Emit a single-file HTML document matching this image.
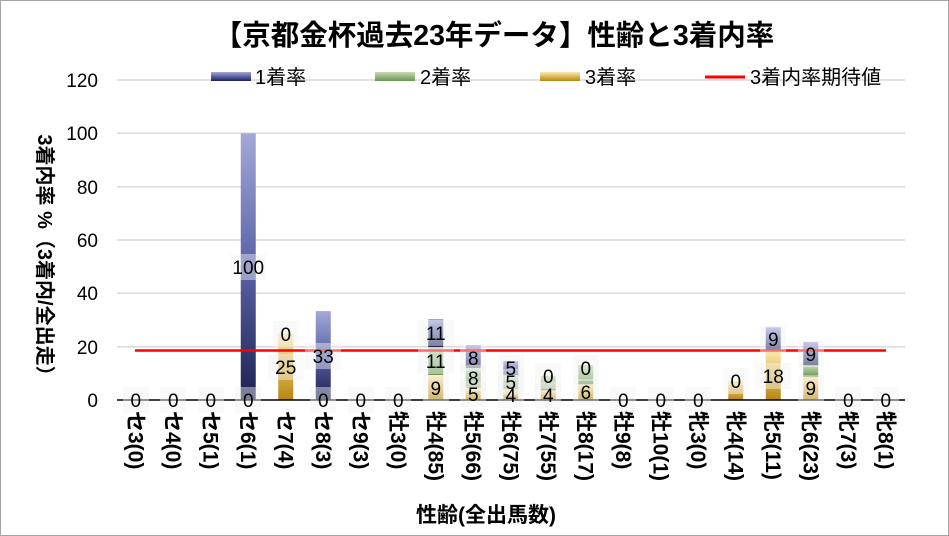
<!DOCTYPE html><html><head><meta charset="utf-8"><style>body{margin:0;background:#fff}svg{display:block;font-family:"Liberation Sans","Noto Sans CJK JP",sans-serif}</style></head><body>
<svg width="949" height="536" viewBox="0 0 949 536" xmlns="http://www.w3.org/2000/svg">
<defs>
<linearGradient id="gb" x1="0" y1="0" x2="0" y2="1"><stop offset="0" stop-color="#a3a9d6"/><stop offset="0.5" stop-color="#5a62a8"/><stop offset="1" stop-color="#1e2150"/></linearGradient>
<linearGradient id="gg" x1="0" y1="0" x2="0" y2="1"><stop offset="0" stop-color="#c6dcb8"/><stop offset="1" stop-color="#6b9550"/></linearGradient>
<linearGradient id="go" x1="0" y1="0" x2="0" y2="1"><stop offset="0" stop-color="#fde9ae"/><stop offset="1" stop-color="#b8860b"/></linearGradient>
</defs>
<rect x="0.5" y="0.5" width="948" height="535" fill="#fff" stroke="#a6a6a6"/>
<text x="494" y="45" font-size="28.5" font-weight="bold" text-anchor="middle">【京都金杯過去23年データ】性齢と3着内率</text>
<g stroke="#d9d9d9" stroke-width="1.5">
<line x1="117" y1="80" x2="905" y2="80"/><line x1="117" y1="133.3" x2="905" y2="133.3"/><line x1="117" y1="186.7" x2="905" y2="186.7"/><line x1="117" y1="240" x2="905" y2="240"/><line x1="117" y1="293.3" x2="905" y2="293.3"/><line x1="117" y1="346.7" x2="905" y2="346.7"/>
</g>
<g font-size="19" text-anchor="end" fill="#000">
<text x="98" y="87">120</text><text x="98" y="140">100</text><text x="98" y="194">80</text><text x="98" y="247">60</text><text x="98" y="300">40</text><text x="98" y="354">20</text><text x="98" y="407">0</text>
</g>
<text transform="translate(38,260) rotate(90)" font-size="20" font-weight="bold" text-anchor="middle">3着内率 %（3着内/全出走）</text>
<rect x="211" y="72" width="40" height="9" fill="url(#gb)"/><text x="255" y="84" font-size="20">1着率</text>
<rect x="375" y="72" width="40" height="9" fill="url(#gg)"/><text x="420" y="84" font-size="20">2着率</text>
<rect x="540" y="72" width="40" height="9" fill="url(#go)"/><text x="585" y="84" font-size="20">3着率</text>
<line x1="705" y1="77" x2="745" y2="77" stroke="#f00" stroke-width="3"/><text x="750" y="84" font-size="20">3着内率期待値</text>
<g>
<rect x="240.75" y="133.3" width="15" height="266.7" fill="url(#gb)"/>
<rect x="278.25" y="333.3" width="15" height="66.7" fill="url(#go)"/>
<rect x="315.75" y="311.1" width="15" height="88.9" fill="url(#gb)"/>
<rect x="428.25" y="375" width="15" height="25" fill="url(#go)"/><rect x="428.25" y="347" width="15" height="28" fill="url(#gg)"/><rect x="428.25" y="319" width="15" height="28" fill="url(#gb)"/>
<rect x="465.75" y="388" width="15" height="12" fill="url(#go)"/><rect x="465.75" y="368" width="15" height="20" fill="url(#gg)"/><rect x="465.75" y="345" width="15" height="23" fill="url(#gb)"/>
<rect x="503.25" y="389.3" width="15" height="10.7" fill="url(#go)"/><rect x="503.25" y="375.1" width="15" height="14.2" fill="url(#gg)"/><rect x="503.25" y="361" width="15" height="14.1" fill="url(#gb)"/>
<rect x="540.75" y="390.3" width="15" height="9.7" fill="url(#go)"/><rect x="540.75" y="376" width="15" height="14.3" fill="url(#gg)"/>
<rect x="578.25" y="384.3" width="15" height="15.7" fill="url(#go)"/><rect x="578.25" y="365" width="15" height="19.3" fill="url(#gg)"/>
<rect x="728.25" y="381" width="15" height="19" fill="url(#go)"/>
<rect x="765.75" y="351.5" width="15" height="48.5" fill="url(#go)"/><rect x="765.75" y="327.3" width="15" height="24.2" fill="url(#gb)"/>
<rect x="803.25" y="376.8" width="15" height="23.2" fill="url(#go)"/><rect x="803.25" y="365.2" width="15" height="11.6" fill="url(#gg)"/><rect x="803.25" y="342" width="15" height="23.2" fill="url(#gb)"/>
</g>
<line x1="117" y1="400" x2="905" y2="400" stroke="#000" stroke-width="1.5"/>
<line x1="135" y1="350.5" x2="886" y2="350.5" stroke="#f00" stroke-width="2.5"/>
<g fill="#f2f2f2" fill-opacity="0.45">
<rect x="123" y="387" width="26" height="26"/><rect x="160" y="387" width="26" height="26"/><rect x="198" y="387" width="26" height="26"/><rect x="235" y="387" width="26" height="26"/>
<rect x="230" y="254" width="36" height="26"/>
<rect x="273" y="321" width="26" height="26"/><rect x="268" y="354" width="36" height="26"/>
<rect x="305" y="343" width="36" height="26"/><rect x="310" y="387" width="26" height="26"/>
<rect x="348" y="387" width="26" height="26"/><rect x="385" y="387" width="26" height="26"/>
<rect x="418" y="320" width="36" height="26"/><rect x="418" y="348" width="36" height="26"/><rect x="423" y="375" width="26" height="26"/>
<rect x="460" y="345" width="26" height="26"/><rect x="460" y="365" width="26" height="26"/><rect x="460" y="381" width="26" height="26"/>
<rect x="498" y="355" width="26" height="26"/><rect x="498" y="369" width="26" height="26"/><rect x="498" y="382" width="26" height="26"/>
<rect x="535" y="363" width="26" height="26"/><rect x="535" y="382" width="26" height="26"/>
<rect x="573" y="355" width="26" height="26"/><rect x="573" y="379" width="26" height="26"/>
<rect x="610" y="387" width="26" height="26"/><rect x="648" y="387" width="26" height="26"/><rect x="685" y="387" width="26" height="26"/>
<rect x="723" y="368" width="26" height="26"/>
<rect x="760" y="326" width="26" height="26"/><rect x="755" y="363" width="36" height="26"/>
<rect x="798" y="341" width="26" height="26"/><rect x="798" y="375" width="26" height="26"/>
<rect x="835" y="387" width="26" height="26"/><rect x="873" y="387" width="26" height="26"/>
</g>
<g font-size="19" text-anchor="middle" fill="#000">
<text x="135.75" y="407">0</text><text x="173.25" y="407">0</text><text x="210.75" y="407">0</text><text x="248.25" y="407">0</text>
<text x="248.25" y="274">100</text>
<text x="285.75" y="341">0</text><text x="285.75" y="374">25</text>
<text x="323.25" y="363">33</text><text x="323.25" y="407">0</text>
<text x="360.75" y="407">0</text><text x="398.25" y="407">0</text>
<text x="435.75" y="340">11</text><text x="435.75" y="368">11</text><text x="435.75" y="395">9</text>
<text x="473.25" y="365">8</text><text x="473.25" y="385">8</text><text x="473.25" y="401">5</text>
<text x="510.75" y="375">5</text><text x="510.75" y="389">5</text><text x="510.75" y="402">4</text>
<text x="548.25" y="383">0</text><text x="548.25" y="402">4</text>
<text x="585.75" y="375">0</text><text x="585.75" y="399">6</text>
<text x="623.25" y="407">0</text><text x="660.75" y="407">0</text><text x="698.25" y="407">0</text>
<text x="735.75" y="388">0</text>
<text x="773.25" y="346">9</text><text x="773.25" y="383">18</text>
<text x="810.75" y="361">9</text><text x="810.75" y="395">9</text>
<text x="848.25" y="407">0</text><text x="885.75" y="407">0</text>
</g>
<g font-size="21" font-weight="bold" fill="#000">
<text transform="translate(128.5,411) rotate(90)">セ3(0)</text>
<text transform="translate(166,411) rotate(90)">セ4(0)</text>
<text transform="translate(203.5,411) rotate(90)">セ5(1)</text>
<text transform="translate(241,411) rotate(90)">セ6(1)</text>
<text transform="translate(278.5,411) rotate(90)">セ7(4)</text>
<text transform="translate(316,411) rotate(90)">セ8(3)</text>
<text transform="translate(353.5,411) rotate(90)">セ9(3)</text>
<text transform="translate(391,411) rotate(90)">牡3(0)</text>
<text transform="translate(428.5,411) rotate(90)">牡4(85)</text>
<text transform="translate(466,411) rotate(90)">牡5(66)</text>
<text transform="translate(503.5,411) rotate(90)">牡6(75)</text>
<text transform="translate(541,411) rotate(90)">牡7(55)</text>
<text transform="translate(578.5,411) rotate(90)">牡8(17)</text>
<text transform="translate(616,411) rotate(90)">牡9(8)</text>
<text transform="translate(653.5,411) rotate(90)">牡10(1)</text>
<text transform="translate(691,411) rotate(90)">牝3(0)</text>
<text transform="translate(728.5,411) rotate(90)">牝4(14)</text>
<text transform="translate(766,411) rotate(90)">牝5(11)</text>
<text transform="translate(803.5,411) rotate(90)">牝6(23)</text>
<text transform="translate(841,411) rotate(90)">牝7(3)</text>
<text transform="translate(878.5,411) rotate(90)">牝8(1)</text>
</g>
<text x="486" y="522" font-size="21" font-weight="bold" text-anchor="middle">性齢(全出馬数)</text>
</svg>
</body></html>
